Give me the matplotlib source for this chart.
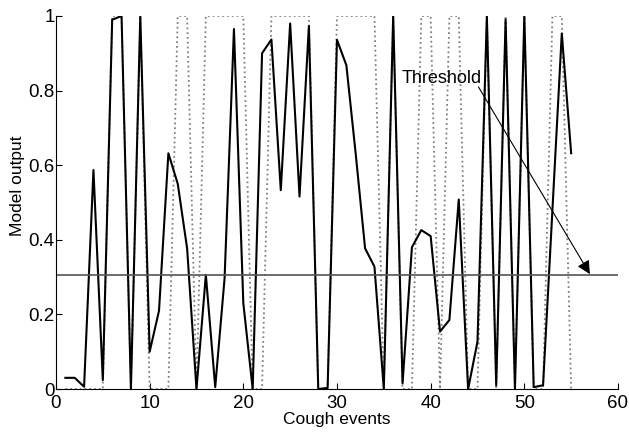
import numpy as np
import matplotlib
matplotlib.use('Agg')
import matplotlib.pyplot as plt

plt.rcParams['font.family'] = ['Liberation Sans', 'DejaVu Sans']

# cough event index
events = np.arange(1, 56)

# model output per cough event
model_output = [0.03, 0.03, 0.006, 0.587, 0.024, 0.99, 1.0, 0.0, 1.0, 0.10,
                0.21, 0.632, 0.55, 0.377, 0.0, 0.306, 0.005, 0.297, 0.965, 0.23,
                0.0, 0.90, 0.937, 0.533, 0.98, 0.516, 0.973, 0.0, 0.003, 0.936,
                0.868, 0.63, 0.377, 0.328, 0.0, 1.0, 0.015, 0.38, 0.426, 0.41,
                0.154, 0.185, 0.508, 0.0, 0.127, 1.0, 0.01, 0.99, 0.0, 1.0,
                0.005, 0.01, 0.48, 0.953, 0.632]

# reference labels (0/1)
labels = [0, 0, 0, 0, 0, 1, 1, 0, 1, 0,
          0, 0, 1, 1, 0, 1, 1, 1, 1, 1,
          0, 0, 1, 1, 1, 1, 1, 0, 0, 1,
          1, 1, 1, 1, 0, 1, 0, 0, 1, 1,
          0, 1, 1, 0, 0, 1, 0, 1, 0, 1,
          0, 0, 1, 1, 0]

threshold = 0.305

fig = plt.figure(figsize=(6.29, 4.32), dpi=100)
ax = fig.add_axes([0.089, 0.0995, 0.8935, 0.8635])

ax.plot(events, labels, ':', color='#808080', lw=1.3)
ax.plot(events, model_output, '-', color='black', lw=1.5)
ax.plot([0, 60], [threshold, threshold], '-', color='#555555', lw=1.2)

# threshold label and arrow
ax.text(36.9, 0.82, 'Threshold', fontsize=13, ha='left', va='baseline')
ax.annotate('', xy=(57.0, threshold + 0.003), xytext=(45.1, 0.81),
            arrowprops=dict(arrowstyle='-|>', color='black', lw=0.8,
                            mutation_scale=20, shrinkA=0, shrinkB=0))

ax.set(xlim=(0, 60), ylim=(0, 1))
ax.set_xticks([0, 10, 20, 30, 40, 50, 60])
ax.set_yticks([0, 0.2, 0.4, 0.6, 0.8, 1])
ax.set_yticklabels(['0', '0.2', '0.4', '0.6', '0.8', '1'])
ax.tick_params(direction='in', length=4, labelsize=13.5)
ax.tick_params(axis='y', pad=1)
ax.tick_params(axis='x', pad=4.5)
ax.spines['top'].set_visible(False)
ax.spines['right'].set_visible(False)
ax.set_xlabel('Cough events', fontsize=12.5, labelpad=0)
ax.set_ylabel('Model output', fontsize=12.5)
ax.yaxis.set_label_coords(-0.056, 0.545)

fig.savefig('out.png', dpi=100)
